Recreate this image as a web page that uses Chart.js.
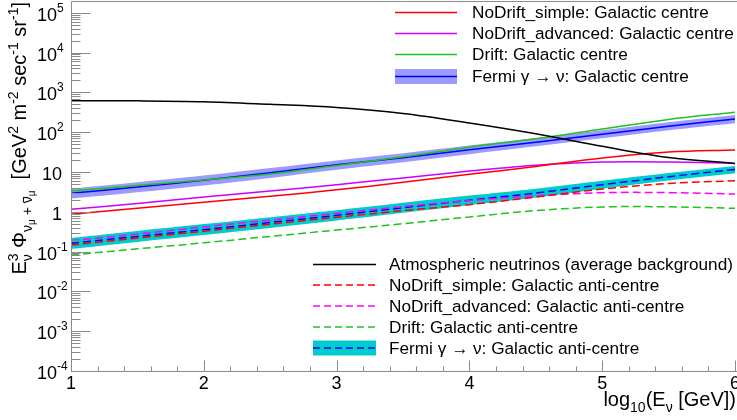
<!DOCTYPE html>
<html><head><meta charset="utf-8">
<script src="https://cdn.jsdelivr.net/npm/chart.js@4"></script>
<style>html,body{margin:0;padding:0;background:#fff;}canvas{display:block;}</style>
</head><body>
<canvas id="c" width="737" height="420"></canvas>
<script>
// ---- data (log10 E_nu [GeV] on x; E^3 Phi on y) ----
const energies = [1, 1.5, 2, 2.5, 3, 3.5, 4, 4.5, 5, 5.5, 6];
const atmospheric = [615, 612, 582, 500, 417, 295, 170, 91, 44, 23, 16.4];
const noDriftSimpleGC = [0.86, 1.23, 1.74, 2.45, 3.55, 5.5, 8.7, 13.8, 22.4, 31.6, 35.5];
const noDriftAdvancedGC = [1.15, 1.62, 2.34, 3.31, 4.79, 7.08, 10.5, 14.8, 17.8, 17.8, 16.4];
const driftGC = [3.3, 4.6, 6.3, 8.9, 14.5, 24, 42, 68, 120, 209, 316];
const fermiGC = [2.9, 4.2, 6.2, 9.5, 15.1, 22.9, 36.3, 56, 89, 141, 214];
const fermiGCUpper = [3.8, 5.5, 8.1, 12.5, 19.5, 29.5, 46, 71, 112, 177, 268];
const fermiGCLower = [2.15, 3.1, 4.6, 7.1, 11.4, 17.5, 28, 44, 70, 112, 168];
const noDriftSimpleAC = [0.146, 0.219, 0.324, 0.49, 0.724, 1.07, 1.51, 2.34, 3.72, 5.13, 6.03];
const noDriftAdvancedAC = [0.187, 0.275, 0.417, 0.617, 0.912, 1.35, 1.91, 2.51, 3.02, 3.02, 2.79];
const driftAC = [0.082, 0.117, 0.166, 0.24, 0.347, 0.501, 0.741, 1.07, 1.32, 1.33, 1.22];
const fermiAC = [0.162, 0.24, 0.355, 0.537, 0.813, 1.26, 1.95, 2.95, 4.79, 7.59, 11.6];
const fermiACUpper = [0.22, 0.33, 0.49, 0.73, 1.09, 1.68, 2.55, 3.8, 6.0, 9.4, 14.2];
const fermiACLower = [0.116, 0.175, 0.26, 0.39, 0.6, 0.94, 1.48, 2.28, 3.8, 6.1, 9.3];

const xTickValues = [1, 2, 3, 4, 5, 6];
const xTickLabels = ['1', '2', '3', '4', '5', '6'];
const yTickValues = [1e-4, 1e-3, 1e-2, 1e-1, 1, 10, 1e2, 1e3, 1e4, 1e5];
const yTickBase = ['10', '10', '10', '10', '1', '10', '10', '10', '10', '10'];
const yTickExp = ['-4', '-3', '-2', '-1', '', '', '2', '3', '4', '5'];

const legendTopLabels = ['NoDrift_simple: Galactic centre', 'NoDrift_advanced: Galactic centre', 'Drift: Galactic centre', 'Fermi \u03b3 \u2192 \u03bd: Galactic centre'];
const legendBottomLabels = ['Atmospheric neutrinos (average background)', 'NoDrift_simple: Galactic anti-centre', 'NoDrift_advanced: Galactic anti-centre', 'Drift: Galactic anti-centre', 'Fermi \u03b3 \u2192 \u03bd: Galactic anti-centre'];

// ---- styles ----
const C = {
  red: '#ff0000', violet: '#cc00ff', green: '#1ec31e', magenta: '#ff00ff',
  blue: '#0000ff', blueBand: '#9a9aff', cyanBand: '#00cccc', black: '#000000', axis: '#8a8a8a'
};
const DASH = [8, 4];
const FONT = '"Liberation Sans", Arial, sans-serif';

const pts = arr => energies.map((e, i) => ({x: e, y: arr[i]}));
function line(label, arr, color, dash, order) {
  return {label, data: pts(arr), borderColor: color, borderWidth: 1.5, borderDash: dash || [],
    pointRadius: 0, fill: false, tension: 0.35, order: order};
}
function band(label, arr, color, fillTarget, order) {
  return {label, data: pts(arr), borderColor: 'rgba(0,0,0,0)', borderWidth: 0, backgroundColor: color,
    pointRadius: 0, fill: fillTarget, tension: 0.35, order: order};
}

const datasets = [
  line('Atmospheric neutrinos (average background)', atmospheric, C.black, null, 1),
  line('NoDrift_simple: Galactic centre', noDriftSimpleGC, C.red, null, 1),
  line('NoDrift_advanced: Galactic centre', noDriftAdvancedGC, C.violet, null, 1),
  line('Drift: Galactic centre', driftGC, C.green, null, 1),
  line('Fermi GC', fermiGC, C.blue, null, 2),
  line('NoDrift_simple: Galactic anti-centre', noDriftSimpleAC, C.red, DASH, 1),
  line('NoDrift_advanced: Galactic anti-centre', noDriftAdvancedAC, C.magenta, DASH, 1),
  line('Drift: Galactic anti-centre', driftAC, C.green, DASH, 1),
  line('Fermi AC', fermiAC, C.blue, DASH, 2),
  band('Fermi GC lower', fermiGCLower, C.blueBand, false, 10),
  band('Fermi GC upper', fermiGCUpper, C.blueBand, 9, 10),
  band('Fermi AC lower', fermiACLower, C.cyanBand, false, 10),
  band('Fermi AC upper', fermiACUpper, C.cyanBand, 11, 10)
];

function richWidth(ctx, segs, F) {
  let w = 0;
  for (const g of segs) {
    const parts = g.stack || [g];
    let m = 0;
    for (const s of parts) { ctx.font = `${s.s * F}px ${FONT}`; m = Math.max(m, ctx.measureText(s.t).width); }
    w += m;
  }
  return w;
}
function drawRich(ctx, segs, x, y, F) {
  let cx = x;
  ctx.textAlign = 'left'; ctx.textBaseline = 'alphabetic';
  for (const g of segs) {
    const parts = g.stack || [g];
    let m = 0;
    for (const s of parts) {
      ctx.font = `${s.s * F}px ${FONT}`;
      const w = ctx.measureText(s.t).width;
      const yy = y + (s.dy || 0) * F;
      ctx.fillText(s.t, cx, yy);
      if (s.over) ctx.fillRect(cx + w * 0.1, yy - s.s * F * 0.62, w * 0.8, 1);
      m = Math.max(m, w);
    }
    cx += m;
  }
}

const yTitle = [
  {t: 'E', s: 1}, {stack: [{t: '3', s: 0.7, dy: -0.42}, {t: '\u03bd', s: 0.7, dy: 0.28}]},
  {t: ' \u03a6', s: 1}, {t: '\u03bd', s: 0.7, dy: 0.28}, {t: '\u03bc', s: 0.5, dy: 0.45},
  {t: ' + ', s: 0.7, dy: 0.28}, {t: '\u03bd', s: 0.7, dy: 0.28, over: true}, {t: '\u03bc', s: 0.5, dy: 0.45},
  {t: '  [GeV', s: 1}, {t: '2', s: 0.7, dy: -0.4}, {t: ' m', s: 1}, {t: '-2', s: 0.7, dy: -0.4},
  {t: ' sec', s: 1}, {t: '-1', s: 0.7, dy: -0.4}, {t: ' sr', s: 1}, {t: '-1', s: 0.7, dy: -0.4}, {t: ']', s: 1}
];
const xTitle = [{t: 'log', s: 1}, {t: '10', s: 0.7, dy: 0.3}, {t: '(E', s: 1}, {t: '\u03bd', s: 0.7, dy: 0.3}, {t: ' [GeV])', s: 1}];

const rootAxes = {
  id: 'rootAxes',
  afterDraw(chart) {
    const ctx = chart.ctx, xs = chart.scales.x, ys = chart.scales.y, a = chart.chartArea;
    ctx.save();
    ctx.strokeStyle = C.axis; ctx.lineWidth = 1;
    const L = Math.round(a.left) + 0.5, B = Math.round(a.bottom) + 0.5, T = Math.round(a.top) + 0.5;
    ctx.beginPath();
    ctx.moveTo(L, T); ctx.lineTo(L, B); ctx.lineTo(a.right + 2, B);
    ctx.moveTo(L, T); ctx.lineTo(chart.width, T);
    // y ticks
    for (let d = -4; d <= 5; d++) {
      for (let m = 1; m <= 9; m++) {
        const v = m * Math.pow(10, d);
        if (v > ys.max) break;
        const py = Math.round(ys.getPixelForValue(v)) + 0.5;
        const len = m === 1 ? 19 : 9;
        ctx.moveTo(L, py); ctx.lineTo(L + len, py);
      }
    }
    // x ticks
    for (let k = 0; k <= 25; k++) {
      const v = 1 + k * 0.2;
      const px = Math.round(xs.getPixelForValue(v)) + 0.5;
      const len = (k % 5 === 0) ? 11 : 5;
      ctx.moveTo(px, B); ctx.lineTo(px, B - len);
    }
    ctx.stroke();

    // y labels
    ctx.fillStyle = '#000';
    yTickValues.forEach((v, i) => {
      const py = ys.getPixelForValue(v);
      if (yTickExp[i]) {
        ctx.font = `18px ${FONT}`; ctx.textAlign = 'right'; ctx.textBaseline = 'alphabetic';
        ctx.fillText(yTickBase[i], 57, py + 8);
        ctx.font = `12px ${FONT}`; ctx.textAlign = 'left';
        ctx.fillText(yTickExp[i], 57, py - 1);
      } else {
        ctx.font = `18px ${FONT}`; ctx.textAlign = 'right'; ctx.textBaseline = 'alphabetic';
        ctx.fillText(yTickBase[i], 62, py + 8);
      }
    });
    // x labels
    ctx.font = `18px ${FONT}`; ctx.textAlign = 'center'; ctx.textBaseline = 'alphabetic';
    xTickValues.forEach((v, i) => ctx.fillText(xTickLabels[i], xs.getPixelForValue(v), 389));

    // x title
    const wx = richWidth(ctx, xTitle, 20);
    drawRich(ctx, xTitle, 736 - wx, 406, 20);
    // y title
    const wy = richWidth(ctx, yTitle, 20);
    ctx.save(); ctx.translate(26, 2); ctx.rotate(-Math.PI / 2);
    drawRich(ctx, yTitle, -wy, 0, 20);
    ctx.restore();

    // legends
    ctx.font = `17.2px ${FONT}`; ctx.textAlign = 'left'; ctx.textBaseline = 'alphabetic';
    const topRows = [12.5, 33.5, 54.5, 76.5];
    const topColors = [C.red, C.violet, C.green, C.blue];
    topRows.forEach((ry, i) => {
      if (i === 3) { ctx.fillStyle = C.blueBand; ctx.fillRect(395, ry - 7.5, 62, 15); }
      ctx.strokeStyle = topColors[i]; ctx.lineWidth = 1.5; ctx.setLineDash([]);
      ctx.beginPath(); ctx.moveTo(395, ry); ctx.lineTo(457, ry); ctx.stroke();
      ctx.fillStyle = '#000'; ctx.fillText(legendTopLabels[i], 472, ry + 5.5);
    });
    const botRows = [264.5, 285, 306, 327, 348];
    const botColors = [C.black, C.red, C.magenta, C.green, C.blue];
    botRows.forEach((ry, i) => {
      if (i === 4) { ctx.fillStyle = C.cyanBand; ctx.fillRect(313, ry - 7.5, 63, 15); }
      ctx.strokeStyle = botColors[i]; ctx.lineWidth = 1.5; ctx.setLineDash(i === 0 ? [] : [7, 4]);
      ctx.beginPath(); ctx.moveTo(313, ry); ctx.lineTo(376, ry); ctx.stroke();
      ctx.setLineDash([]);
      ctx.fillStyle = '#000'; ctx.fillText(legendBottomLabels[i], 389, ry + 5.5);
    });
    ctx.restore();
  }
};

new Chart(document.getElementById('c'), {
  type: 'line',
  data: {datasets},
  options: {
    responsive: false, animation: false, devicePixelRatio: 1,
    layout: {padding: {left: 71, right: 2, top: 1, bottom: 49}},
    plugins: {legend: {display: false}, tooltip: {enabled: false}},
    scales: {
      x: {type: 'linear', min: 1, max: 6, display: false},
      y: {type: 'logarithmic', min: 1e-4, max: 1.97e5, display: false}
    }
  },
  plugins: [rootAxes]
});
</script>
</body></html>
